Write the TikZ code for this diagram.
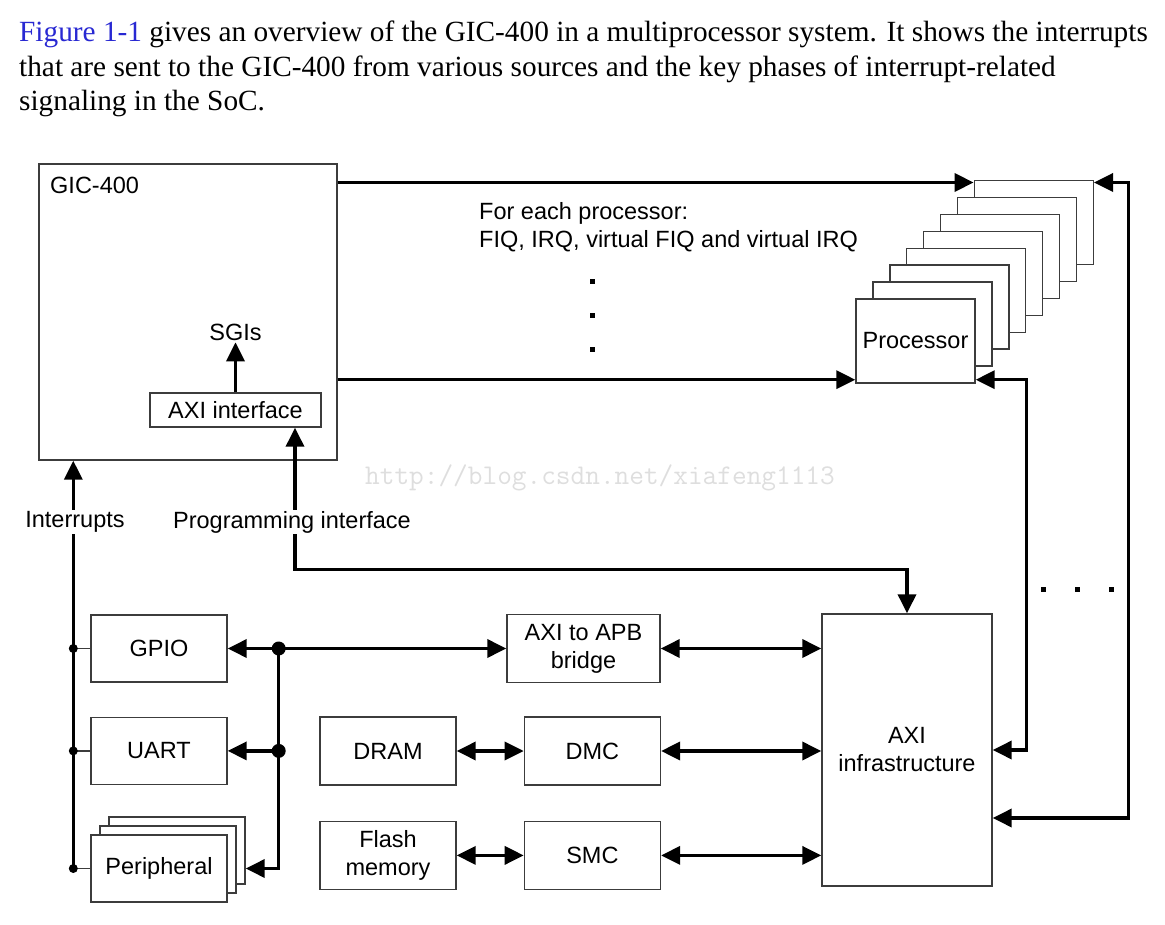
\documentclass[tikz,border=0pt]{standalone}
\usepackage{fontspec}
\setmainfont{Liberation Serif}
\setsansfont{Liberation Sans}
\usepackage{tikz}
\usetikzlibrary{arrows.meta,positioning,calc}

\definecolor{linkblue}{RGB}{40,40,210}
\definecolor{boxgray}{RGB}{60,60,60}

\begin{document}
\begin{tikzpicture}[x=1pt, y=-1pt,
    font=\sffamily\fontsize{23.5}{28}\selectfont,
    blk/.style={draw=boxgray, line width=1.4pt, fill=white, align=center, inner sep=2pt},
    perbox/.style={blk, minimum width=136pt, minimum height=67pt},
    memblk/.style={blk, minimum width=136pt, minimum height=68pt},
    cpu/.style={blk, minimum width=119pt, minimum height=84pt},
    lbl/.style={inner sep=1pt, align=left},
    link/.style={line width=3.5pt, -{Triangle[length=19pt,width=18pt]}},
    both/.style={line width=3.5pt, {Triangle[length=19pt,width=18pt]}-{Triangle[length=19pt,width=18pt]}},
    tap/.style={draw=boxgray, line width=1.4pt},
    sq/.style={fill, inner sep=0pt, minimum size=5pt},
    para/.style={font=\rmfamily\fontsize{29.3}{35}\selectfont, anchor=base west, inner sep=0pt}
]
\useasboundingbox (0,0) rectangle (1165,925);

% intro text
\node[para] (txt1) at (19,42) {\textcolor{linkblue}{Figure 1-1} gives an overview of the GIC-400 in a multiprocessor system. It shows the interrupts};
\node[para] (txt2) at (19,77) {that are sent to the GIC-400 from various sources and the key phases of interrupt-related};
\node[para] (txt3) at (19,111) {signaling in the SoC.};

% GIC-400
\node[blk, minimum width=298pt, minimum height=296pt] (gic) at (188,312) {};
\node[lbl, anchor=west] (gicname) at (49,185) {GIC-400};
\node[blk, minimum width=171pt, minimum height=34pt, inner sep=0pt] (axi) at (235.5,410) {AXI interface};
\node[lbl, above=50pt of axi] (sgis) {SGIs};
\draw[link] (axi) -- (sgis);

% processors
\coordinate (pc) at (915.5,341);
\foreach \k in {7,...,1}
  \node[cpu] (p\k) at ($(pc)+(16.9*\k,-16.9*\k)$) {};
\node[cpu] (proc) at (pc) {Processor};
\node[lbl, anchor=west] (each) at (478,227) {For each processor:\\FIQ, IRQ, virtual FIQ and virtual IRQ};
\foreach \y [count=\i] in {282,316,350}
  \node[sq] (vd\i) at (592,\y) {};
\foreach \x [count=\i] in {1043,1077,1111}
  \node[sq] (hd\i) at (\x,589) {};

% AXI side
\node[blk, minimum width=170pt, minimum height=272pt] (infra) at (907,750) {AXI\\infrastructure};
\node[blk, minimum width=153pt, minimum height=68pt] (bridge) at (583.5,648.5) {AXI to APB\\bridge};
\node[memblk] (dram) at (388,751) {DRAM};
\node[memblk, right=67pt of dram] (dmc) {DMC};
\node[memblk, below=35pt of dram] (flash) {Flash\\memory};
\node[memblk, below=35pt of dmc] (smc) {SMC};

% peripherals
\node[perbox] (gpio) at (159,648.5) {GPIO};
\node[perbox, below=34pt of gpio] (uart) {UART};
\coordinate (pc2) at (159,868.5);
\node[perbox] (pr2) at ($(pc2)+(18,-18)$) {};
\node[perbox] (pr1) at ($(pc2)+(9,-9)$) {};
\node[perbox] (periph) at (pc2) {Peripheral};

% peripheral bus
\coordinate (bus1) at ([xshift=51pt]gpio.east);
\coordinate (bus2) at (bus1 |- uart.east);
\draw[link] (bus1) -- (gpio.east);
\draw[link] (bus2) -- (uart.east);
\draw[link] (bus1) |- (periph.east -| pr2.east);
\draw[link] (bus1) -- (bus1 -| bridge.west);
\fill (bus1) circle (7pt);
\fill (bus2) circle (7pt);

\draw[both] (bridge.east) -- (bridge.east -| infra.west);
\draw[both] (dram) -- (dmc);
\draw[both] (dmc.east) -- (dmc.east -| infra.west);
\draw[both] (flash) -- (smc);
\draw[both] (smc.east) -- (smc.east -| infra.west);

% interrupts
\coordinate (irq) at ([xshift=-17pt]periph.west);
\draw[tap] (irq) -- (periph.west);
\draw[tap] (irq |- gpio.west) -- (gpio.west);
\draw[tap] (irq |- uart.west) -- (uart.west);
\draw[link] (irq) -- (irq |- gic.south);
\foreach \n in {gpio,uart,periph}
  \fill (irq |- \n.west) circle (4.5pt);
\node[lbl, fill=white] (irqlbl) at (75,522) {Interrupts};

% programming interface
\draw[both] ([xshift=59.5pt]axi.south) |- ([yshift=44pt]infra.north) -- (infra.north);
\node[lbl, fill=white] (pgmlbl) at (292,522) {Programming interface};

% processor lines
\coordinate (t7) at ([yshift=-2.5pt]p7.north west);
\coordinate (t0) at ([yshift=4pt]proc.south west);
\draw[link] (gic.east |- t7) -- (t7);
\draw[link] (gic.east |- t0) -- (t0);
\draw[both] ([yshift=-2.5pt]p7.north east) -| ([xshift=136pt,yshift=-68pt]infra.east) -- ([yshift=-68pt]infra.east);
\draw[both] ([yshift=4pt]proc.south east) -| ([xshift=34pt]infra.east) -- (infra.east);

\node[font=\ttfamily\fontsize{28.5}{28.5}\selectfont, text=black!13] (wmark) at (600,478) {http://blog.csdn.net/xiafeng1113};
\end{tikzpicture}
\end{document}
